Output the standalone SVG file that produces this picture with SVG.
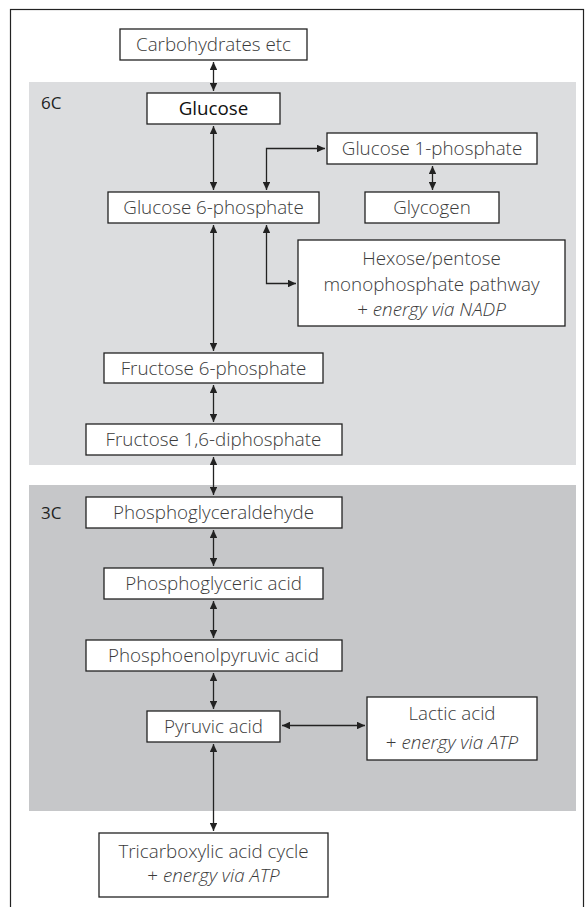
<svg xmlns="http://www.w3.org/2000/svg" width="585" height="907" viewBox="0 0 585 907">
<style>
.box{fill:#fff;stroke:#222;stroke-width:1.3}
.t{font-family:"Open Sans","Noto Sans",sans-serif;font-size:18.8px;fill:#3a3a3a;text-anchor:middle;font-weight:300}
.b{fill:#111;font-weight:400}
.i{font-style:italic}
.lab{font-family:"Open Sans","Noto Sans",sans-serif;font-size:17px;fill:#222}
.c{fill:none;stroke:#222;stroke-width:1.3}
</style>
<defs>
<marker id="ah" viewBox="0 0 10 10" refX="10" refY="5" markerWidth="8" markerHeight="7.5" markerUnits="userSpaceOnUse" orient="auto-start-reverse" preserveAspectRatio="none">
<path d="M0,0 L10,5 L0,10 z" fill="#222"/>
</marker>
</defs>
<rect x="10.5" y="9.5" width="573" height="920" fill="#fff" stroke="#222" stroke-width="1.2"/>
<g id="panel6C">
<rect x="29" y="82" width="547" height="383" fill="#dcdddf"/>
<text class="lab" x="41" y="109">6C</text>
</g>
<g id="panel3C">
<rect x="29" y="485" width="547" height="326" fill="#c6c7c9"/>
<text class="lab" x="41" y="519">3C</text>
</g>
<g id="connectors">
<line class="c" x1="213.5" y1="62" x2="213.5" y2="91" marker-start="url(#ah)" marker-end="url(#ah)"/>
<line class="c" x1="213.5" y1="126" x2="213.5" y2="190" marker-start="url(#ah)" marker-end="url(#ah)"/>
<path class="c" d="M266.5,190 V148.5 H325" marker-start="url(#ah)" marker-end="url(#ah)"/>
<line class="c" x1="432.5" y1="166" x2="432.5" y2="190" marker-start="url(#ah)" marker-end="url(#ah)"/>
<path class="c" d="M266.5,225 V283.5 H296" marker-start="url(#ah)" marker-end="url(#ah)"/>
<line class="c" x1="213.5" y1="225" x2="213.5" y2="351" marker-start="url(#ah)" marker-end="url(#ah)"/>
<line class="c" x1="213.5" y1="385" x2="213.5" y2="422" marker-start="url(#ah)" marker-end="url(#ah)"/>
<line class="c" x1="213.5" y1="457" x2="213.5" y2="495" marker-start="url(#ah)" marker-end="url(#ah)"/>
<line class="c" x1="213.5" y1="530" x2="213.5" y2="566" marker-start="url(#ah)" marker-end="url(#ah)"/>
<line class="c" x1="213.5" y1="601" x2="213.5" y2="638" marker-start="url(#ah)" marker-end="url(#ah)"/>
<line class="c" x1="213.5" y1="673" x2="213.5" y2="709" marker-start="url(#ah)" marker-end="url(#ah)"/>
<line class="c" x1="282" y1="725.5" x2="365" y2="725.5" marker-start="url(#ah)" marker-end="url(#ah)"/>
<line class="c" x1="213.5" y1="744" x2="213.5" y2="831" marker-start="url(#ah)" marker-end="url(#ah)"/>
</g>
<g id="carbohydrates"><rect class="box" x="120" y="29" width="187" height="31"/><text class="t" x="213.5" y="51">Carbohydrates etc</text></g>
<g id="glucose"><rect class="box" x="147" y="93" width="133" height="31"/><text class="t b" x="213.5" y="115">Glucose</text></g>
<g id="glucose1p"><rect class="box" x="327" y="133" width="210" height="31"/><text class="t" x="432" y="155">Glucose 1-phosphate</text></g>
<g id="glucose6p"><rect class="box" x="108" y="192" width="211" height="31"/><text class="t" x="213.5" y="214">Glucose 6-phosphate</text></g>
<g id="glycogen"><rect class="box" x="365" y="192" width="134" height="31"/><text class="t" x="432" y="214">Glycogen</text></g>
<g id="hexose"><rect class="box" x="298" y="240" width="267" height="86"/>
<text class="t" x="431.5" y="265">Hexose/pentose</text>
<text class="t" x="431.5" y="291">monophosphate pathway</text>
<text class="t" x="431.5" y="316">+ <tspan class="i">energy via NADP</tspan></text></g>
<g id="fructose6p"><rect class="box" x="104" y="353" width="219" height="30"/><text class="t" x="213.5" y="375">Fructose 6-phosphate</text></g>
<g id="fructose16dp"><rect class="box" x="86" y="424" width="256" height="31"/><text class="t" x="213.5" y="446">Fructose 1,6-diphosphate</text></g>
<g id="phosphoglyceraldehyde"><rect class="box" x="86" y="497" width="256" height="31"/><text class="t" x="213.5" y="519">Phosphoglyceraldehyde</text></g>
<g id="phosphoglyceric"><rect class="box" x="104" y="568" width="219" height="31"/><text class="t" x="213.5" y="590">Phosphoglyceric acid</text></g>
<g id="phosphoenolpyruvic"><rect class="box" x="86" y="640" width="256" height="31"/><text class="t" x="213.5" y="662">Phosphoenolpyruvic acid</text></g>
<g id="pyruvic"><rect class="box" x="147" y="711" width="133" height="31"/><text class="t" x="213.5" y="733">Pyruvic acid</text></g>
<g id="lactic"><rect class="box" x="367" y="697" width="170" height="63"/>
<text class="t" x="452" y="720">Lactic acid</text>
<text class="t" x="452" y="749">+ <tspan class="i">energy via ATP</tspan></text></g>
<g id="tca"><rect class="box" x="99" y="833" width="229" height="64"/>
<text class="t" x="213.5" y="858">Tricarboxylic acid cycle</text>
<text class="t" x="213.5" y="882">+ <tspan class="i">energy via ATP</tspan></text></g>
</svg>
